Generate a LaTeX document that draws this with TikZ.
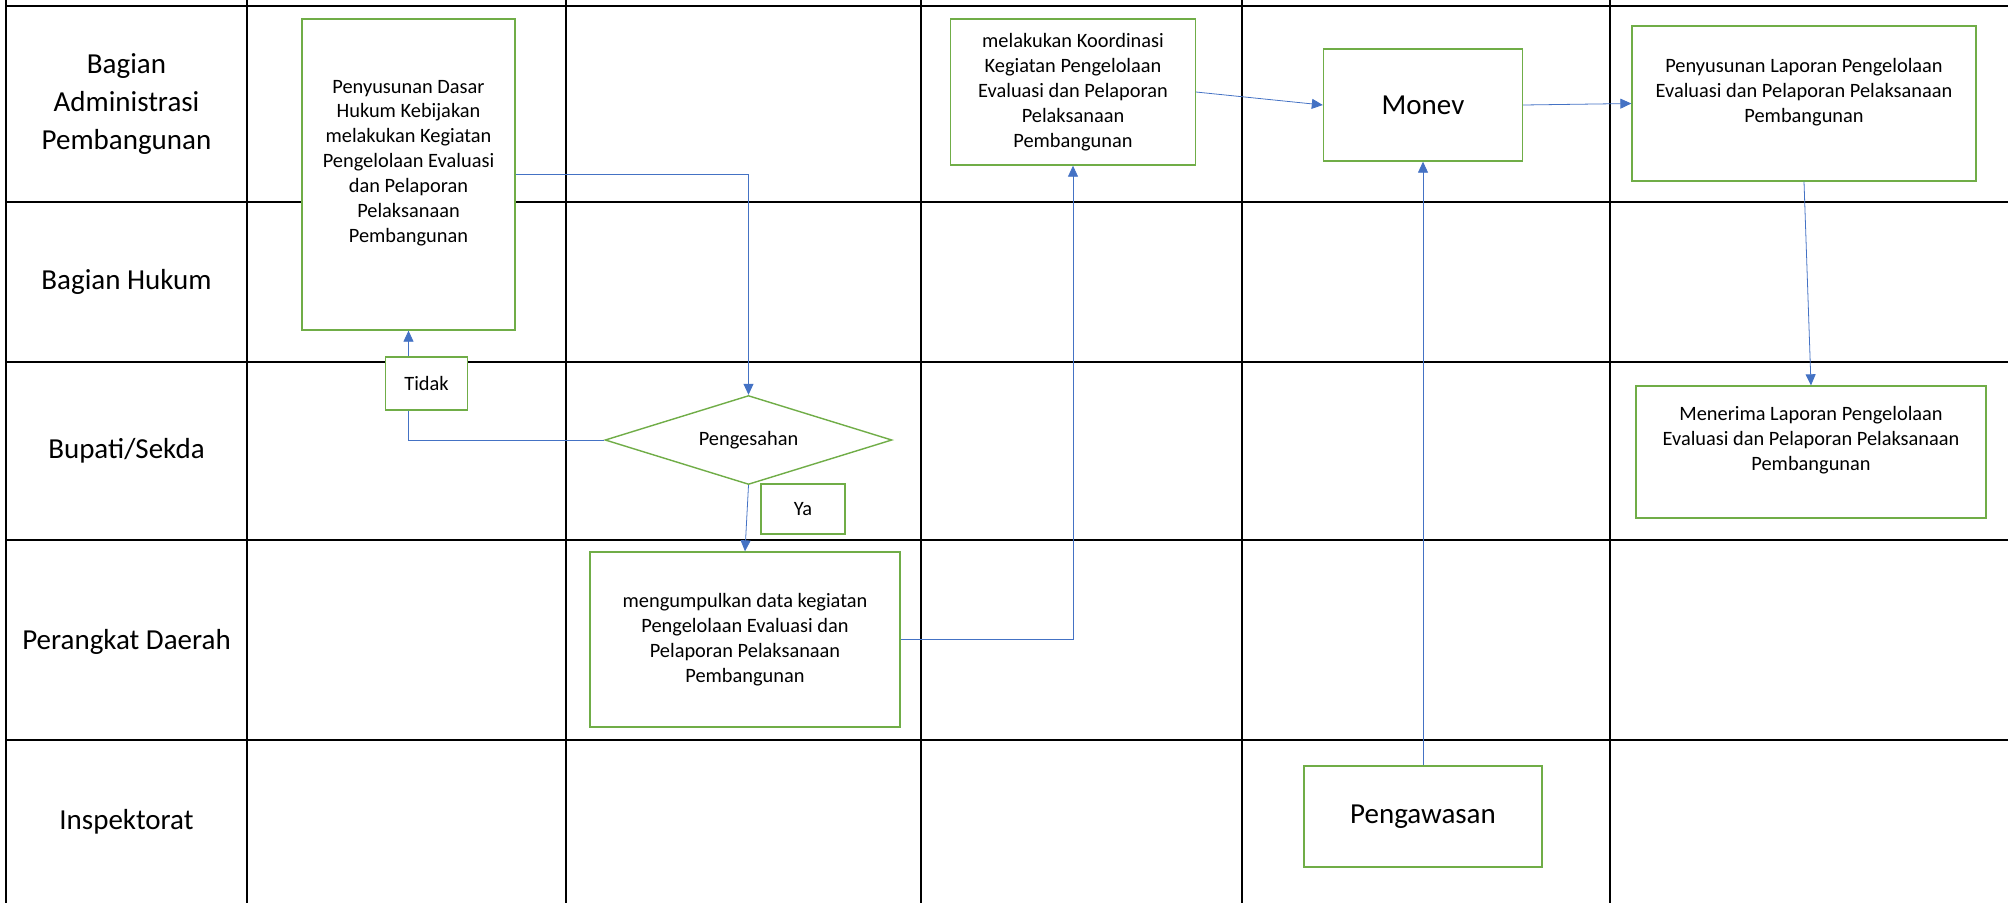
\documentclass[tikz,border=0pt]{standalone}
\usepackage{fontspec}
\setmainfont{Carlito}
\usepackage{tikz}
\usetikzlibrary{arrows.meta,positioning,shapes.geometric}
\definecolor{boxgreen}{HTML}{70AD47}
\definecolor{flowblue}{HTML}{4472C4}

\begin{document}
\begin{tikzpicture}[
  x=0.02cm, y=-0.02cm,
  lane/.style={align=center, font=\fontsize{16.5}{21.5}\selectfont},
  act/.style={rectangle, draw=boxgreen, line width=0.8pt, fill=white,
    align=center, inner sep=0pt, font=\fontsize{11.6}{14.2}\selectfont},
  bigact/.style={act, font=\fontsize{16.5}{21.5}\selectfont},
  gate/.style={diamond, draw=boxgreen, line width=0.8pt, fill=white,
    inner sep=0pt, aspect=3.2, font=\fontsize{11.6}{14.2}\selectfont},
  lifted/.style={text depth=15pt},
  flow/.style={-{Triangle[length=0.22cm, width=0.2cm]}, draw=flowblue,
    line width=0.45pt},
  lanerule/.style={line width=1.3pt},
]
  \useasboundingbox (0,0) rectangle (2008,903);

  % swimlane grid
  \foreach \x in {6,247,566,921,1242,1610}
    \draw[lanerule] (\x,0) -- (\x,903);
  \foreach \y in {6,202,362,540,740}
    \draw[lanerule] (6,\y) -- (2008,\y);

  % lane names
  \node[lane] (l1) at (126.5,104) {Bagian\\Administrasi\\Pembangunan};
  \node[lane] (l2) at (126.5,282) {Bagian Hukum};
  \node[lane] (l3) at (126.5,451) {Bupati/Sekda};
  \node[lane] (l4) at (126.5,642) {Perangkat Daerah};
  \node[lane] (l5) at (126.5,822) {Inspektorat};

  % activities
  \node[act, lifted, minimum width=4.26cm, minimum height=6.22cm] (dasar)
    at (408.5,174.5) {Penyusunan Dasar\\Hukum Kebijakan\\melakukan Kegiatan\\
    Pengelolaan Evaluasi\\dan Pelaporan\\Pelaksanaan\\Pembangunan};
  \node[gate, minimum width=5.74cm, minimum height=1.78cm] (sah)
    at (748.5,440) {Pengesahan};
  \node[act, minimum width=1.68cm, minimum height=1.0cm] (ya)
    at (803,509) {Ya};
  \node[act, minimum width=6.2cm, minimum height=3.5cm] (kumpul)
    at (745,639.5) {mengumpulkan data kegiatan\\Pengelolaan Evaluasi dan\\
    Pelaporan Pelaksanaan\\Pembangunan};
  \node[act, minimum width=4.89cm, minimum height=2.92cm] (koord)
    at (1073,92) {melakukan Koordinasi\\Kegiatan Pengelolaan\\
    Evaluasi dan Pelaporan\\Pelaksanaan\\Pembangunan};
  \node[bigact, minimum width=3.98cm, minimum height=2.24cm] (monev)
    at (1423,105) {Monev};
  \node[bigact, minimum width=4.76cm, minimum height=2.02cm] (awas)
    at (1423,816.5) {Pengawasan};
  \node[act, lifted, minimum width=6.88cm, minimum height=3.1cm] (lapor)
    at (1804,103.5) {Penyusunan Laporan Pengelolaan\\
    Evaluasi dan Pelaporan Pelaksanaan\\Pembangunan};
  \node[act, lifted, minimum width=7.0cm, minimum height=2.64cm] (terima)
    at (1811,452) {Menerima Laporan Pengelolaan\\
    Evaluasi dan Pelaporan Pelaksanaan\\Pembangunan};

  % flow
  \draw[flow] (dasar.east) -| (sah.north);
  \draw[flow] (sah.west) -| (dasar.south);
  \draw[flow] (sah.south) -- (kumpul.north);
  \draw[flow] (kumpul.east) -| (koord.south);
  \draw[flow] (koord.east) -- (monev.west);
  \draw[flow] (awas.north) -- (monev.south);
  \draw[flow] (monev.east) -- (lapor.west);
  \draw[flow] (lapor.south) -- (terima.north);

  \node[act, minimum width=1.64cm, minimum height=1.06cm] (tidak)
    at (426.5,383.5) {Tidak};
\end{tikzpicture}
\end{document}
